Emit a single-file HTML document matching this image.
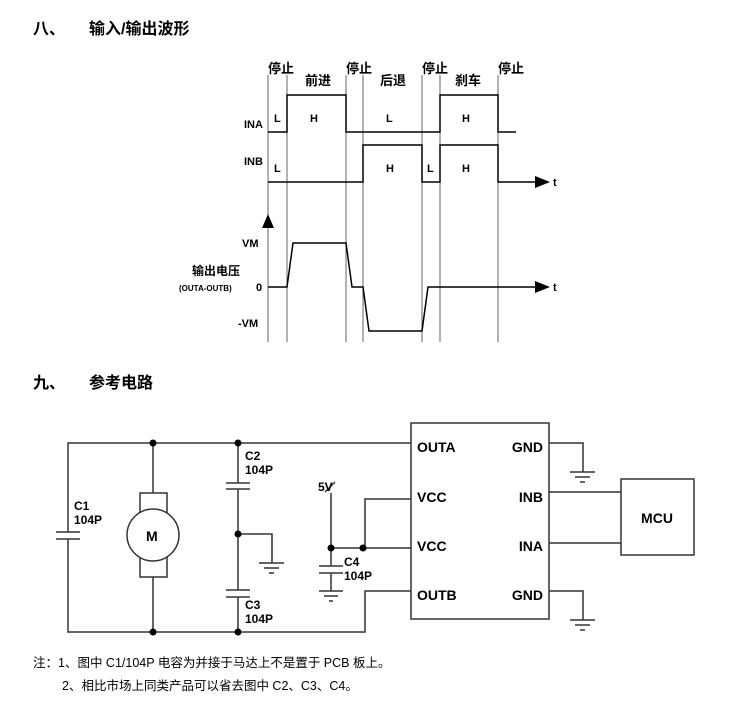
<!DOCTYPE html>
<html><head><meta charset="utf-8"><style>
html,body{margin:0;padding:0;background:#fff}
svg{display:block}
text{font-family:"Liberation Sans","Noto Sans CJK SC",sans-serif;fill:#000}
.b{font-weight:bold}
</style></head><body>
<svg width="750" height="721" viewBox="0 0 750 721" xmlns="http://www.w3.org/2000/svg">
<g class="b" font-size="16">
<text x="33" y="34">八、</text><text x="89" y="34">输入/输出波形</text>
<text x="33" y="388">九、</text><text x="89" y="388">参考电路</text>
</g>
<g stroke="#666" stroke-width="1">
<line x1="268" y1="75" x2="268" y2="342"/><line x1="287" y1="75" x2="287" y2="342"/>
<line x1="346" y1="75" x2="346" y2="342"/><line x1="363" y1="75" x2="363" y2="342"/>
<line x1="422" y1="75" x2="422" y2="342"/><line x1="440" y1="75" x2="440" y2="342"/>
<line x1="498" y1="75" x2="498" y2="342"/>
</g>
<g fill="none" stroke="#000" stroke-width="1.5">
<polyline points="268,132 287,132 287,95 346,95 346,132 440,132 440,95 498,95 498,132 516,132"/>
<polyline points="268,182 363,182 363,145 422,145 422,182 440,182 440,145 498,145 498,182 537,182"/>
<polyline points="268,287 287,287 293,243 346,243 352,287 363,287 369,331 422,331 428,287 537,287"/>
</g>
<polygon points="535,176 550,182 535,188" fill="#000"/>
<polygon points="535,281 550,287 535,293" fill="#000"/>
<polygon points="262,228 268,214 274,228" fill="#000"/>
<g class="b" font-size="13">
<text x="268" y="73">停止</text><text x="346" y="73">停止</text>
<text x="422" y="73">停止</text><text x="498" y="73">停止</text>
<text x="318" y="85" text-anchor="middle">前进</text><text x="393" y="85" text-anchor="middle">后退</text>
<text x="468" y="85" text-anchor="middle">刹车</text>
</g>
<g class="b" font-size="11">
<text x="244" y="128">INA</text><text x="244" y="165">INB</text>
<text x="274" y="122">L</text><text x="310" y="122">H</text><text x="386" y="122">L</text><text x="462" y="122">H</text>
<text x="274" y="172">L</text><text x="386" y="172">H</text><text x="427" y="172">L</text><text x="462" y="172">H</text>
<text x="553" y="186">t</text><text x="553" y="291">t</text>
<text x="242" y="247">VM</text><text x="256" y="291">0</text><text x="238" y="327">-VM</text>
<text x="192" y="275" font-size="12">输出电压</text>
<text x="179" y="291" font-size="8">(OUTA-OUTB)</text>
</g>
<g fill="none" stroke="#333" stroke-width="1.5">
<polyline points="411,443 68,443 68,532"/>
<polyline points="68,539 68,632 365,632 365,591 411,591"/>
<line x1="56" y1="532" x2="80" y2="532"/><line x1="56" y1="539" x2="80" y2="539"/>
<line x1="153" y1="443" x2="153" y2="493"/><line x1="153" y1="577" x2="153" y2="632"/>
<rect x="140" y="493" width="27" height="84"/>
<circle cx="153" cy="535" r="26" fill="#fff"/>
<line x1="238" y1="443" x2="238" y2="483"/><line x1="238" y1="489" x2="238" y2="590"/><line x1="238" y1="597" x2="238" y2="632"/>
<line x1="226" y1="483" x2="250" y2="483"/><line x1="226" y1="489" x2="250" y2="489"/>
<line x1="226" y1="590" x2="250" y2="590"/><line x1="226" y1="597" x2="250" y2="597"/>
<polyline points="238,534 272,534 272,563"/>
<line x1="259" y1="563" x2="284" y2="563"/><line x1="264" y1="568" x2="279" y2="568"/><line x1="269" y1="573" x2="274" y2="573"/>
<line x1="331" y1="493" x2="331" y2="566"/><line x1="325" y1="492" x2="335" y2="482"/>
<line x1="319" y1="566" x2="343" y2="566"/><line x1="319" y1="573" x2="343" y2="573"/>
<line x1="331" y1="573" x2="331" y2="591"/>
<line x1="319" y1="591" x2="343" y2="591"/><line x1="324" y1="596" x2="338" y2="596"/><line x1="329" y1="601" x2="333" y2="601"/>
<polyline points="331,548 411,548"/><polyline points="365,548 365,499 411,499"/>
<rect x="411" y="423" width="138" height="196"/>
<polyline points="549,443 583,443 583,472"/>
<line x1="570" y1="472" x2="595" y2="472"/><line x1="575" y1="477" x2="590" y2="477"/><line x1="580" y1="482" x2="585" y2="482"/>
<polyline points="549,591 583,591 583,620"/>
<line x1="570" y1="620" x2="595" y2="620"/><line x1="575" y1="625" x2="590" y2="625"/><line x1="580" y1="630" x2="585" y2="630"/>
<line x1="549" y1="492" x2="621" y2="492"/><line x1="549" y1="543" x2="621" y2="543"/>
<rect x="621" y="479" width="73" height="76"/>
</g>
<g fill="#000">
<circle cx="153" cy="443" r="3.5"/><circle cx="238" cy="443" r="3.5"/>
<circle cx="153" cy="632" r="3.5"/><circle cx="238" cy="632" r="3.5"/>
<circle cx="238" cy="534" r="3.5"/><circle cx="331" cy="548" r="3.5"/><circle cx="363" cy="548" r="3.5"/>
</g>
<g class="b" font-size="12">
<text x="74" y="510">C1</text><text x="74" y="524">104P</text>
<text x="245" y="460">C2</text><text x="245" y="474">104P</text>
<text x="245" y="609">C3</text><text x="245" y="623">104P</text>
<text x="344" y="566">C4</text><text x="344" y="580">104P</text>
<text x="318" y="491">5V</text>
<text x="146" y="541" font-size="14">M</text>
</g>
<g class="b" font-size="14">
<text x="417" y="452">OUTA</text><text x="417" y="502">VCC</text><text x="417" y="551">VCC</text><text x="417" y="600">OUTB</text>
<text x="543" y="452" text-anchor="end">GND</text><text x="543" y="502" text-anchor="end">INB</text>
<text x="543" y="551" text-anchor="end">INA</text><text x="543" y="600" text-anchor="end">GND</text>
<text x="657" y="523" text-anchor="middle">MCU</text>
</g>
<g font-size="12.5">
<text x="33" y="667">注：1、图中 C1/104P 电容为并接于马达上不是置于 PCB 板上。</text>
<text x="62" y="690">2、相比市场上同类产品可以省去图中 C2、C3、C4。</text>
</g>
</svg>
</body></html>
